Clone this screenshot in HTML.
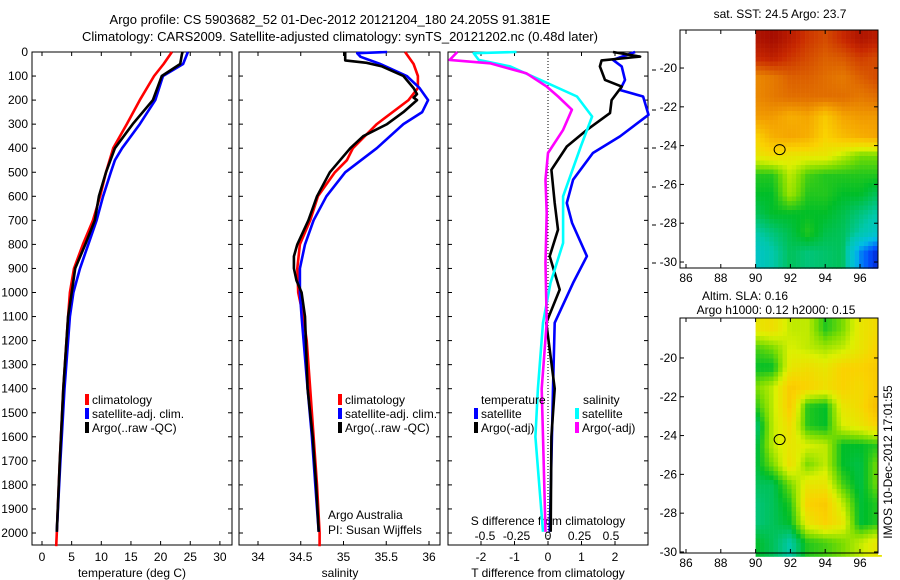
<!DOCTYPE html>
<html><head><meta charset="utf-8"><style>
body{margin:0;background:#fff;}
svg{display:block;font-family:"Liberation Sans",sans-serif;font-size:12px;}
</style></head><body>
<svg id="fig" width="900" height="580" viewBox="0 0 900 580">
<text x="330" y="24" text-anchor="middle" font-size="13">Argo profile: CS 5903682_52 01-Dec-2012 20121204_180 24.205S 91.381E</text>
<text x="340" y="41" text-anchor="middle" font-size="13">Climatology: CARS2009. Satellite-adjusted climatology: synTS_20121202.nc (0.48d later)</text>
<g id="plots"></g>
<text transform="translate(892,462) rotate(-90)" text-anchor="middle" font-size="12">IMOS 10-Dec-2012 17:01:55</text>
</svg>
<script>
// ---- data ----
const depthTicks=[0,100,200,300,400,500,600,700,800,900,1000,1100,1200,1300,1400,1500,1600,1700,1800,1900,2000];
const tempTicks=[0,5,10,15,20,25,30];
const salTicks=[34,34.5,35,35.5,36];
const tdiffTicks=[-2,-1,0,1,2];
const sdiffTicks=[-0.5,-0.25,0,0.25,0.5];
const sdiffTickLabels=["-0.5","-0.25","0","0.25","0.5"];

const tClimD=[0,50,100,200,300,400,500,600,700,800,900,1000,1100,1400,1700,2000,2055];
const tClimV=[21.9,20.5,18.9,16.5,14.3,12.0,10.8,9.8,8.6,6.9,5.4,4.7,4.4,3.6,3.0,2.5,2.4];
const tSatD=[0,50,100,200,300,400,450,500,600,700,800,900,1000,1100,1400,1700,1995];
const tSatV=[24.6,23.8,20.4,19.1,16.5,13.5,12.3,11.6,10.3,9.2,7.8,6.4,5.3,4.7,3.8,3.1,2.5];
const tArgoD=[0,10,50,100,200,300,400,500,600,700,800,900,1000,1100,1400,1700,1995];
const tArgoV=[23.7,23.6,23.3,20.2,18.7,15.3,12.3,10.8,9.6,8.9,7.3,5.6,5.0,4.4,3.6,3.0,2.5];

const sClimD=[0,50,100,150,200,300,400,450,500,600,700,800,900,1000,1100,1200,1400,1600,1800,2000,2055];
const sClimV=[35.72,35.82,35.87,35.87,35.76,35.39,35.11,35.04,34.90,34.70,34.61,34.49,34.46,34.47,34.53,34.57,34.61,34.65,34.69,34.72,34.72];
const sSatD=[0,5,20,50,100,150,200,250,300,400,500,600,700,800,900,1000,1100,1400,1600,1800,1995];
const sSatV=[35.51,35.16,35.2,35.43,35.74,35.89,35.99,35.92,35.70,35.39,35.02,34.80,34.65,34.55,34.49,34.49,34.51,34.58,34.63,34.67,34.71];
const sArgoD=[0,35,45,60,100,150,175,190,200,250,300,350,400,450,500,600,700,800,850,900,950,1000,1100,1400,1600,1800,1995];
const sArgoV=[35.02,35.02,35.27,35.45,35.70,35.82,35.86,35.82,35.86,35.70,35.51,35.23,35.08,34.96,34.84,34.69,34.59,34.46,34.42,34.42,34.45,34.51,34.55,34.58,34.64,34.68,34.71];

const dtSatD=[0,33,60,116,158,185,261,351,420,531,628,711,849,960,1126,1400,1700,1995];
const dtSatV=[2.6,1.94,2.2,2.3,2.15,2.84,3.0,2.15,1.34,0.75,0.56,0.72,1.16,0.75,0.2,0.15,0.1,0.05];
const dtArgoD=[0,19,35,60,116,144,200,254,324,393,490,628,739,849,988,1126,1400,1600,1995];
const dtArgoV=[1.94,2.75,1.6,1.55,1.7,2.2,1.9,1.85,1.16,0.56,0.1,0.2,0.3,0.05,0.35,-0.05,0.2,0.1,0.08];
const dsSatD=[0,5,33,60,116,185,268,393,600,794,960,1126,1400,1600,1995];
const dsSatV=[-0.25,-0.59,-0.55,-0.30,-0.06,0.23,0.35,0.26,0.12,0.12,0.02,-0.04,-0.08,-0.1,-0.04];
const dsArgoD=[0,33,47,89,144,185,240,324,420,531,669,877,1126,1400,1600,1995];
const dsArgoV=[-0.72,-0.78,-0.46,-0.17,-0.01,0.08,0.19,0.12,0.0,-0.02,-0.01,-0.02,-0.01,-0.05,-0.04,-0.02];

const lonTicks=[86,88,90,92,94,96];
const latTicks=[-20,-22,-24,-26,-28,-30];
const argoLon=91.381, argoLat=-24.205;
const sstGrid=[
[0.95,0.97,0.93,0.88,0.85,0.9,0.95,0.93],
[0.9,0.92,0.88,0.85,0.82,0.83,0.87,0.85],
[0.75,0.78,0.82,0.82,0.8,0.78,0.82,0.85],
[0.75,0.78,0.8,0.8,0.8,0.8,0.78,0.8],
[0.72,0.72,0.68,0.7,0.62,0.7,0.72,0.72],
[0.6,0.68,0.7,0.68,0.6,0.65,0.68,0.7],
[0.55,0.58,0.55,0.55,0.55,0.5,0.45,0.45],
[0.4,0.4,0.5,0.42,0.4,0.4,0.4,0.4],
[0.38,0.38,0.48,0.4,0.4,0.38,0.38,0.35],
[0.35,0.38,0.38,0.38,0.38,0.36,0.33,0.3],
[0.3,0.33,0.36,0.4,0.36,0.35,0.3,0.25],
[0.25,0.3,0.35,0.33,0.34,0.35,0.15,0.05]];
const slaGrid=[
[0.55,0.57,0.5,0.5,0.4,0.45,0.55,0.58],
[0.42,0.45,0.52,0.5,0.48,0.5,0.55,0.6],
[0.38,0.38,0.55,0.57,0.55,0.6,0.6,0.62],
[0.45,0.5,0.62,0.6,0.57,0.6,0.58,0.62],
[0.4,0.5,0.62,0.4,0.38,0.55,0.58,0.65],
[0.32,0.5,0.58,0.4,0.38,0.52,0.55,0.6],
[0.35,0.5,0.55,0.52,0.5,0.38,0.38,0.4],
[0.36,0.45,0.57,0.45,0.5,0.38,0.36,0.45],
[0.35,0.35,0.45,0.55,0.55,0.42,0.36,0.45],
[0.33,0.35,0.4,0.6,0.62,0.5,0.37,0.4],
[0.33,0.35,0.38,0.55,0.6,0.55,0.37,0.4],
[0.38,0.35,0.3,0.4,0.42,0.45,0.5,0.55]];

// ---- drawing ----
const NS="http://www.w3.org/2000/svg";
const root=document.getElementById('plots');
function mk(tag,attrs,parent){const e=document.createElementNS(NS,tag);for(const k in attrs)e.setAttribute(k,attrs[k]);(parent||root).appendChild(e);return e;}
function txt(x,y,s,anchor,parent){const t=mk('text',{x:x,y:y,'text-anchor':anchor||'start'},parent);t.textContent=s;return t;}
const TOP=52,BOT=545;
const yD=d=>TOP+0.2405*d;
const xT=v=>42+5.93*v;
const xS=v=>258+85.5*(v-34);
const xDT=v=>548+33.5*v;
const xDS=v=>548+126*v;
function frame(x0,x1,name){
  const r=mk('rect',{x:x0,y:TOP,width:x1-x0,height:BOT-TOP,fill:'none',stroke:'#000','stroke-width':1});
  
  
  depthTicks.forEach(d=>{mk('line',{x1:x0,x2:x0+4,y1:yD(d),y2:yD(d),stroke:'#000'});mk('line',{x1:x1,x2:x1-4,y1:yD(d),y2:yD(d),stroke:'#000'});});
}
function xticks(vals,fx,labels,y,top,bottom){
  vals.forEach((v,i)=>{const x=fx(v);
    if(top)mk('line',{x1:x,x2:x,y1:TOP,y2:TOP+4,stroke:'#000'});
    if(bottom)mk('line',{x1:x,x2:x,y1:BOT,y2:BOT-4,stroke:'#000'});
    const t=txt(x,y,labels?labels[i]:String(v),'middle');
    
    
  });
}
function line(D,V,fx,color,name,w){
  const p=mk('polyline',{points:D.map((d,i)=>fx(V[i]).toFixed(1)+','+yD(d).toFixed(1)).join(' '),fill:'none',stroke:color,'stroke-width':w||2.6,'stroke-linejoin':'round'});
  
  
}
function legend(x,y,color,label){
  const g=mk('g',{});
  
  
  mk('rect',{x:x,y:y-10,width:4,height:11,fill:color},g);
  txt(x+7,y,label,'start',g);
}
// panel 1
frame(32,232,'temperature-panel');
depthTicks.forEach(d=>{const t=txt(28,yD(d)+4,String(d),'end');});
xticks(tempTicks,xT,null,561,true,true);
let t1=txt(132,577,'temperature (deg C)','middle');
line(tClimD,tClimV,xT,'#f00','temp-climatology-line');
line(tSatD,tSatV,xT,'#00f','temp-satellite-line');
line(tArgoD,tArgoV,xT,'#000','temp-argo-line');
legend(85,404,'#f00','climatology');legend(85,418,'#00f','satellite-adj. clim.');legend(85,432,'#000','Argo(..raw -QC)');
// panel 2
frame(239,440,'salinity-panel');
xticks(salTicks,xS,null,561,true,true);
let t2=txt(340,577,'salinity','middle');
line(sClimD,sClimV,xS,'#f00','sal-climatology-line');
line(sSatD,sSatV,xS,'#00f','sal-satellite-line');
line(sArgoD,sArgoV,xS,'#000','sal-argo-line');
legend(338,404,'#f00','climatology');legend(338,418,'#00f','satellite-adj. clim.');legend(338,432,'#000','Argo(..raw -QC)');
let a1=txt(328,519,'Argo Australia');
let a2=txt(328,534,'PI: Susan Wijffels');
// panel 3
frame(448,648,'difference-panel');
mk('line',{x1:xDT(0),x2:xDT(0),y1:TOP,y2:BOT,stroke:'#000','stroke-dasharray':'1,2'});
xticks(tdiffTicks,xDT,null,561,true,true);
xticks(sdiffTicks,xDS,sdiffTickLabels,540,false,false);
let t3=txt(548,577,'T difference from climatology','middle');
let t4=txt(548,525,'S difference from climatology','middle');
line(dtSatD,dtSatV,xDT,'#00f','tdiff-satellite-line');
line(dtArgoD,dtArgoV,xDT,'#000','tdiff-argo-line');
line(dsSatD,dsSatV,xDS,'#0ff','sdiff-satellite-line');
line(dsArgoD,dsArgoV,xDS,'#f0f','sdiff-argo-line');
let lt=txt(481,404,'temperature');
let ls=txt(583,404,'salinity');
legend(474,418,'#00f','satellite');legend(474,432,'#000','Argo(-adj)');
legend(575,418,'#0ff','satellite');legend(575,432,'#f0f','Argo(-adj)');
[70,110,148,187,225,263].forEach(y=>mk('line',{x1:652,x2:656,y1:y,y2:y,stroke:'#000'}));

// maps
const cstops=[[0,[0,0,170]],[0.1,[0,80,255]],[0.2,[0,190,230]],[0.3,[0,200,170]],[0.38,[0,190,40]],[0.45,[120,220,0]],[0.52,[220,240,0]],[0.6,[250,210,0]],[0.7,[245,165,0]],[0.8,[225,110,0]],[0.9,[200,40,0]],[1,[150,0,0]]];
function cmap(v){v=Math.max(0,Math.min(1,v));for(let i=1;i<cstops.length;i++){if(v<=cstops[i][0]){const a=cstops[i-1],b=cstops[i],f=(v-a[0])/(b[0]-a[0]);return 'rgb('+a[1].map((c,k)=>Math.round(c+(b[1][k]-c)*f)).join(',')+')';}}return 'rgb(150,0,0)';}
function sample(g,r,c){r=Math.max(0,Math.min(g.length-1,r));c=Math.max(0,Math.min(g[0].length-1,c));const r0=Math.floor(r),c0=Math.floor(c),r1=Math.min(r0+1,g.length-1),c1=Math.min(c0+1,g[0].length-1),fr=r-r0,fc=c-c0;return g[r0][c0]*(1-fr)*(1-fc)+g[r0][c1]*(1-fr)*fc+g[r1][c0]*fr*(1-fc)+g[r1][c1]*fr*fc;}
function map(top,bottom,latTop,grid,title,name){
  const L=680,R=878,xL=lon=>686+17.4*(lon-86);const sc=(bottom-top)/(-30.3-latTop)*-1;
  const yL=lat=>top+(latTop-lat)*19.4;
  const g=mk('g',{});
  
  
  const cw=4.5,ch=4.5;
  for(let y=top;y<bottom;y+=ch){for(let x=xL(90);x<R;x+=cw){
    const lat=latTop-(y+ch/2-top)/19.4, lon=86+(x+cw/2-686)/17.4;
    const v=sample(grid,(-18.5-lat),(lon-90));
    mk('rect',{x:x.toFixed(1),y:y.toFixed(1),width:cw+0.3,height:ch+0.3,fill:cmap(v)},g);
  }}
  mk('rect',{x:R,y:top-2,width:20,height:bottom-top+4,fill:'#fff'},g);
  mk('rect',{x:L,y:top,width:R-L,height:bottom-top,fill:'none',stroke:'#000'},g);
  latTicks.forEach(la=>{const y=yL(la);mk('line',{x1:L,x2:L+4,y1:y,y2:y,stroke:'#000'},g);mk('line',{x1:R,x2:R-4,y1:y,y2:y,stroke:'#000'},g);txt(677,y+4,String(la),'end',g);});
  lonTicks.forEach(lo=>{const x=xL(lo);mk('line',{x1:x,x2:x,y1:bottom,y2:bottom-4,stroke:'#000'},g);mk('line',{x1:x,x2:x,y1:top,y2:top+4,stroke:'#000'},g);txt(x,bottom+14,String(lo),'middle',g);});
  const c=mk('ellipse',{cx:xL(argoLon),cy:yL(argoLat),rx:5.5,ry:5,fill:'none',stroke:'#000','stroke-width':1},g);
  
  
}
map(30,268,-18.04,sstGrid,'','sst-map');
map(318,553,-17.94,slaGrid,'','sla-map');
let m1=txt(780,18,'sat. SST: 24.5 Argo: 23.7','middle');
let m2=txt(745,300,'Altim. SLA: 0.16','middle');
let m3=txt(776,314,'Argo h1000: 0.12 h2000: 0.15','middle');
</script>
</body></html>
